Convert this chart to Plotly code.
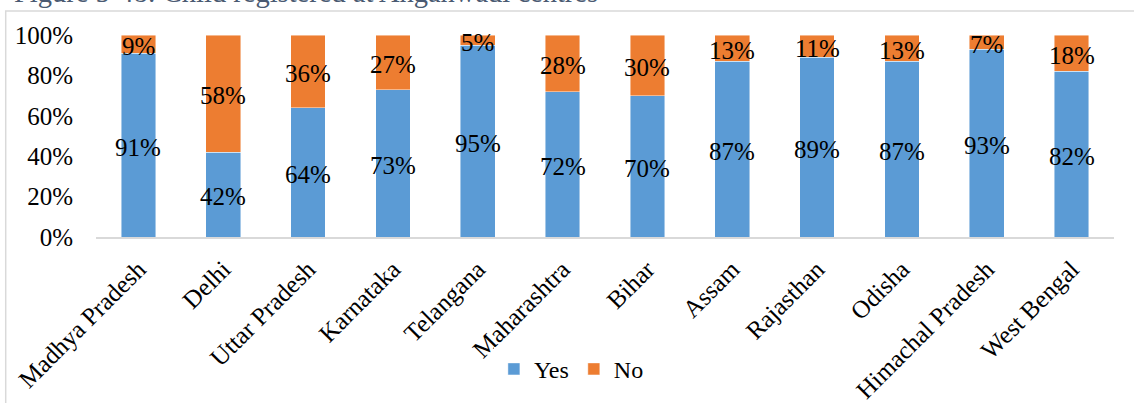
import plotly.graph_objects as go

# Share of children registered at Anganwadi centres, by state (percent)
states = ["Madhya Pradesh", "Delhi", "Uttar Pradesh", "Karnataka", "Telangana",
          "Maharashtra", "Bihar", "Assam", "Rajasthan", "Odisha",
          "Himachal Pradesh", "West Bengal"]
yes_pct = [91, 42, 64, 73, 95, 72, 70, 87, 89, 87, 93, 82]
no_pct = [9, 58, 36, 27, 5, 28, 30, 13, 11, 13, 7, 18]
y_ticks = [0, 20, 40, 60, 80, 100]

BLUE = "#5B9BD5"
ORANGE = "#ED7D31"
SERIF = "Liberation Serif"

fig = go.Figure()
fig.add_trace(go.Bar(name="Yes", x=states, y=yes_pct, marker_color=BLUE,
                     marker_line=dict(color="rgba(255,255,255,0.6)", width=0.75)))
fig.add_trace(go.Bar(name="No", x=states, y=no_pct, marker_color=ORANGE,
                     marker_line=dict(color="rgba(255,255,255,0.6)", width=0.75)))

# Value labels centred in each segment
annotations = []
label_font = dict(family=SERIF, size=25, color="#000")
for s, y, n in zip(states, yes_pct, no_pct):
    annotations.append(dict(x=s, y=y / 2, xref="x", yref="y", text=f"{y}%", yshift=-2,
                            showarrow=False, font=label_font))
    annotations.append(dict(x=s, y=y + n / 2, xref="x", yref="y", text=f"{n}%", yshift=-2,
                            showarrow=False, font=label_font))

# Figure caption above the chart frame
annotations.append(dict(x=-0.0825, y=1.122, xref="paper", yref="paper", xanchor="left",
                        yanchor="bottom", text="Figure 5-48: Child registered at Anganwadi centres",
                        showarrow=False, font=dict(family=SERIF, size=28.5, color="#4A5A72")))

fig.update_layout(
    barmode="stack",
    bargap=0.59,
    width=1134, height=403,
    margin=dict(l=96, r=20, t=35, b=163),
    paper_bgcolor="white", plot_bgcolor="white",
    font=dict(family=SERIF, size=24, color="#000"),
    showlegend=True,
    legend=dict(orientation="h", x=0.467, xanchor="center", y=-0.655, yanchor="middle",
                font=dict(family=SERIF, size=24, color="#000"), traceorder="normal",
                itemwidth=30),
    annotations=annotations,
    shapes=[dict(type="rect", xref="paper", yref="paper", x0=-0.0887, x1=1.03,
                 y0=-0.9, y1=1.119, line=dict(color="#D9D9D9", width=1.5),
                 fillcolor="rgba(0,0,0,0)", layer="below")],
)
fig.update_xaxes(tickangle=-45, showline=True, linecolor="#D9D9D9", linewidth=1.5,
                 showgrid=False, ticks="", tickfont=dict(family=SERIF, size=25, color="#000"),
                 ticklabelstandoff=6, automargin=False)
fig.update_yaxes(range=[0, 100], tickvals=y_ticks, ticktext=[f"{v}%" for v in y_ticks],
                 showgrid=False, zeroline=False, showline=False, ticks="",
                 tickfont=dict(family=SERIF, size=25, color="#000"), ticklabelstandoff=22,
                 automargin=False)

fig.write_html("out.html")
